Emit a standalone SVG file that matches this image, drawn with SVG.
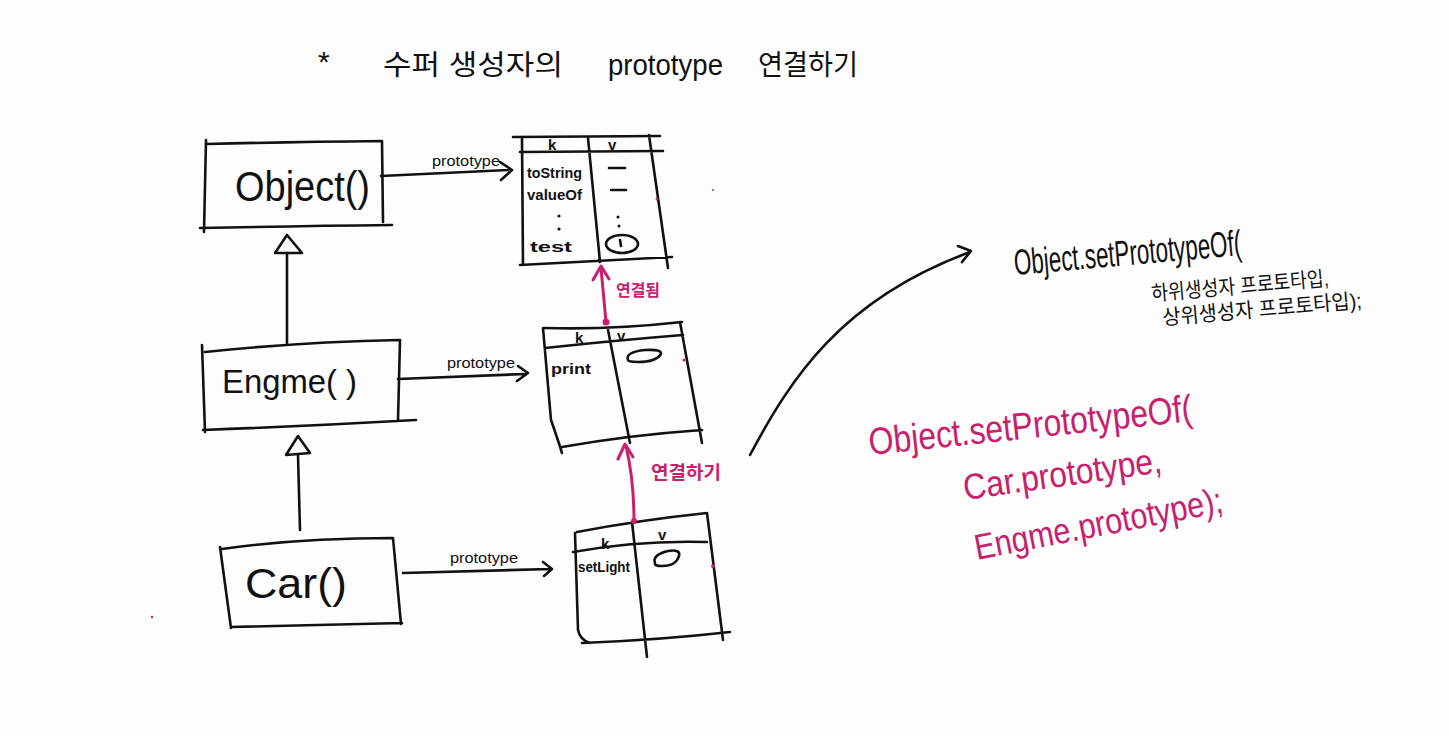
<svg xmlns="http://www.w3.org/2000/svg" width="1449" height="736" viewBox="0 0 1449 736">
<style>
.ln{fill:none;stroke:#111;stroke-width:2.6;stroke-linecap:round;stroke-linejoin:round}
.pk{fill:none;stroke:#c8206c;stroke-width:3;stroke-linecap:round;stroke-linejoin:round}
.t{font-family:"Liberation Sans","Noto Sans CJK KR",sans-serif;fill:#111}
.tp{font-family:"Liberation Sans","Noto Sans CJK KR",sans-serif;fill:#c8206c}
.lbl{font-family:"Liberation Sans",sans-serif;font-size:14px;fill:#111}
.cell{font-family:"Liberation Sans",sans-serif;font-size:15px;fill:#111;font-weight:bold}
</style>
<rect width="1449" height="736" fill="#fdfdfd"/>

<g id="title">
<text class="t" x="318" y="72" font-size="30">*</text>
<text class="t" x="383" y="75" font-size="28" textLength="180" lengthAdjust="spacingAndGlyphs">수퍼 생성자의</text>
<text class="t" x="608" y="75" font-size="30" textLength="115" lengthAdjust="spacingAndGlyphs">prototype</text>
<text class="t" x="758" y="75" font-size="28" textLength="100" lengthAdjust="spacingAndGlyphs">연결하기</text>
</g>

<g id="object-ctor">
<path class="ln" d="M206 140 L204 232 M207 144 Q290 142 382 141 L383 222 M200 228 Q300 226 392 225"/>
<text class="t" x="235" y="201" font-size="42" textLength="135" lengthAdjust="spacingAndGlyphs">Object()</text>
</g>

<g id="engine-ctor">
<path class="ln" d="M202 345 L205 432 M205 352 Q300 342 400 340 L398 420 M203 430 Q310 426 416 420"/>
<text class="t" x="222" y="393" font-size="34" textLength="135" lengthAdjust="spacingAndGlyphs">Engme( )</text>
</g>

<g id="car-ctor">
<path class="ln" d="M220 547 L231 628 M222 549 Q300 538 393 538 L401 624 M231 627 Q310 625 402 623"/>
<text class="t" x="245" y="598" font-size="42" textLength="102" lengthAdjust="spacingAndGlyphs">Car()</text>
</g>

<g id="object-proto">
<path class="ln" d="M513 137 L660 136 M520 152 L663 151 M522 138 L523 265 M520 265 L672 257 M588 138 L600 262 M649 135 L668 268"/>
<text class="cell" x="548" y="150">k</text>
<text class="cell" x="608" y="150">v</text>
<text class="cell" x="527" y="178" font-size="13" textLength="55" lengthAdjust="spacingAndGlyphs">toString</text>
<text class="cell" x="527" y="200" textLength="55" lengthAdjust="spacingAndGlyphs">valueOf</text>
<circle cx="559" cy="216" r="1.6" fill="#111"/>
<circle cx="559" cy="229" r="1.6" fill="#111"/>
<text class="cell" x="530" y="252" textLength="42" lengthAdjust="spacingAndGlyphs">test</text>
<path class="ln" d="M609 168 L625 168 M611 190 L626 190"/>
<circle cx="618" cy="217" r="1.5" fill="#111"/>
<circle cx="619" cy="226" r="1.5" fill="#111"/>
<ellipse class="ln" cx="622" cy="244" rx="16" ry="9"/>
<path class="ln" d="M620 240 L621 246"/>
</g>

<g id="engine-proto">
<path class="ln" d="M545 328 Q610 330 682 322 M545 348 Q620 340 683 335 M543 328 L551 420 Q558 440 562 453 M608 330 L630 443 M680 322 L702 443 M562 447 Q630 435 702 430"/>
<text class="cell" x="575" y="343">k</text>
<text class="cell" x="617" y="341">v</text>
<text class="cell" x="551" y="374" textLength="40" lengthAdjust="spacingAndGlyphs">print</text>
<path class="ln" d="M628 360 Q625 352 645 350 Q662 349 661 354 Q656 362 638 362 Q628 362 628 360"/>
</g>

<g id="car-proto">
<path class="ln" d="M577 532 Q640 520 707 513 M573 552 Q640 540 707 542 M575 533 L578 630 Q580 640 590 643 M632 522 L647 657 M707 513 L723 640 M582 643 Q660 640 730 632"/>
<text class="cell" x="601" y="549">k</text>
<text class="cell" x="658" y="540">v</text>
<text class="cell" x="578" y="572" font-size="13" textLength="52" lengthAdjust="spacingAndGlyphs">setLight</text>
<path class="ln" d="M655 563 Q652 555 668 551 Q681 549 679 556 Q676 566 662 566 Q654 566 655 563"/>
</g>

<g id="connectors">
<path class="ln" d="M287 253 L287 343"/>
<path class="ln" d="M287 235 L275 253 L302 253 Z" fill="#fff"/>
<path class="ln" d="M298 455 L300 530"/>
<path class="ln" d="M298 436 L286 455 L310 453 Z" fill="#fff"/>
<path class="ln" d="M381 176 L508 170 M500 162 L512 170 L501 180"/>
<path class="ln" d="M398 379 L525 374 M518 366 L528 373 L517 381"/>
<path class="ln" d="M403 573 L550 569 M543 562 L552 569 L544 576"/>
<text class="lbl" x="432" y="166" textLength="68" lengthAdjust="spacingAndGlyphs">prototype</text>
<text class="lbl" x="447" y="368" textLength="68" lengthAdjust="spacingAndGlyphs">prototype</text>
<text class="lbl" x="450" y="563" textLength="68" lengthAdjust="spacingAndGlyphs">prototype</text>
<path class="pk" d="M606 322 L601 268 M593 280 L601 266 L609 279"/>
<circle cx="606" cy="322" r="3.5" fill="#c8206c"/>
<path class="pk" d="M634 521 Q634 480 626 446 M618 459 L625 444 L633 457"/>
<circle cx="634" cy="521" r="3" fill="#c8206c"/>
<text class="tp" x="616" y="296" font-size="16" font-weight="bold" textLength="44" lengthAdjust="spacingAndGlyphs">연결됨</text>
<text class="tp" x="651" y="479" font-size="18" font-weight="bold" textLength="70" lengthAdjust="spacingAndGlyphs">연결하기</text>
<path class="ln" d="M750 455 C790 380 840 300 970 252 M958 246 L971 251 L962 262"/>
</g>

<g id="api-note">
<text class="t" x="1015" y="275" font-size="36" transform="rotate(-5 1015 275)" textLength="228" lengthAdjust="spacingAndGlyphs">Object.setPrototypeOf(</text>
<text class="t" x="1152" y="301" font-size="21" transform="rotate(-5 1152 301)" textLength="178" lengthAdjust="spacingAndGlyphs">하위생성자 프로토타입,</text>
<text class="t" x="1163" y="325" font-size="21" transform="rotate(-5 1163 325)" textLength="200" lengthAdjust="spacingAndGlyphs">상위생성자 프로토타입);</text>
</g>

<g id="code-example">
<text class="tp" x="870" y="455" font-size="38" transform="rotate(-6 870 455)" textLength="325" lengthAdjust="spacingAndGlyphs">Object.setPrototypeOf(</text>
<text class="tp" x="965" y="500" font-size="36" transform="rotate(-8 965 500)" textLength="200" lengthAdjust="spacingAndGlyphs">Car.prototype,</text>
<text class="tp" x="977" y="560" font-size="36" transform="rotate(-11 977 560)" textLength="252" lengthAdjust="spacingAndGlyphs">Engme.prototype);</text>
</g>

<g id="marks">
<circle cx="713" cy="566" r="2" fill="#c8206c"/>
<circle cx="657" cy="199" r="1.5" fill="#c8206c"/>
<circle cx="684" cy="360" r="1.5" fill="#c8206c"/>
<circle cx="713" cy="190" r="1" fill="#c8206c"/>
<circle cx="152" cy="617" r="1.2" fill="#c8206c"/>
</g>
</svg>
